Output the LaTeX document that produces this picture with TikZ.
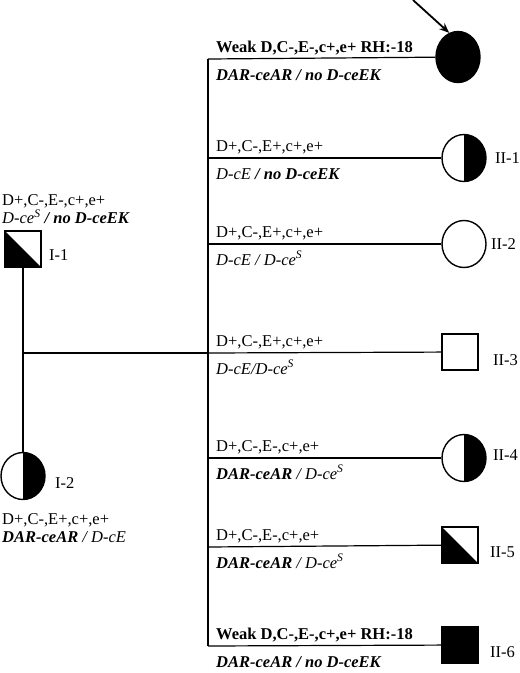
\documentclass[tikz,border=0pt]{standalone}
\usepackage{fontspec}
\setmainfont{Liberation Serif}
\usepackage{tikz}
\usetikzlibrary{positioning, arrows.meta, shapes.geometric}
\tikzset{
    fem/.style = {ellipse, draw, line width=1.4pt, minimum width=44pt,
                  minimum height=47pt, inner sep=0pt},
    male/.style = {rectangle, draw, line width=1.4pt, minimum size=36pt,
                   inner sep=0pt},
    affected/.style = {fill=black},
    halfcarrier/.style = {path picture={\fill[black] (path picture bounding box.north)
                          rectangle (path picture bounding box.south east);}},
    sqcarrier/.style = {path picture={\fill[black] (path picture bounding box.north west)
                        -- (path picture bounding box.south west)
                        -- (path picture bounding box.south east) -- cycle;}},
    link/.style = {line width=1.2pt},
    pheno/.style = {anchor=south west, inner sep=0pt, text depth=4pt},
    geno/.style = {anchor=north west, inner sep=0pt, text height=12pt},
    idlabel/.style = {anchor=west, inner sep=0pt},
    probarrow/.style = {-{Stealth[length=10pt, width=8pt]}, line width=1.8pt},
}
\newcommand{\ceS}{D-ce\textsuperscript{S}}

\begin{document}
\begin{tikzpicture}[x=1pt, y=-1pt, font=\fontsize{16.5}{17}\selectfont]
        \useasboundingbox (0,0) rectangle (520,673);
        % parents
        \node[male, sqcarrier] (I1) at (23,249) {};
        \node[idlabel] (lI1) at (49,255) {I-1};
        \node[anchor=south west, inner sep=0pt, align=left,
              font=\fontsize{16.5}{18.5}\selectfont] (tI1) at (2,224)
            {D+,C-,E-,c+,e+\\\textit{\ceS{} \textbf{/ no D-ceEK}}};
        \node[fem, halfcarrier] (I2) at (23,476) {};
        \node[idlabel] (lI2) at (55,483) {I-2};
        \node[anchor=north west, inner sep=0pt, align=left,
              font=\fontsize{16.5}{18}\selectfont] (tI2) at (2,513)
            {D+,C-,E+,c+,e+\\\textit{\textbf{DAR-ceAR} / D-cE}};
        \draw[link] (I1) -- (I2);
        \coordinate (mate) at (23,353);
        % sibship line
        \coordinate (cP) at (208,59);
        \coordinate (c1) at (208,158);
        \coordinate (c2) at (208,244);
        \coordinate (c3) at (208,353);
        \coordinate (c4) at (208,458);
        \coordinate (c5) at (208,547);
        \coordinate (c6) at (208,646);
        \draw[link] (mate) -- (c3);
        \draw[link] (cP) -- (c6);
        % proband
        \node[fem, affected, minimum height=51pt] (P) at (458,57) {};
        \coordinate (arrowtail) at (413,0);
        \draw[probarrow] (arrowtail) -- (P.110);
        \draw[link] (cP) -- (P);
        \node[pheno] (pP) at (216,57) {\textbf{Weak D,C-,E-,c+,e+ RH:-18}};
        \node[geno] (gP) at (216,68) {\textbf{\textit{DAR-ceAR / no D-ceEK}}};
        % II-1
        \node[fem, halfcarrier] (II1) at (464,158) {};
        \node[idlabel] (lII1) at (495,158) {II-1};
        \draw[link] (c1) -- (II1);
        \node[pheno] (p1) at (216,156) {D+,C-,E+,c+,e+};
        \node[geno] (g1) at (216,167) {\textit{D-cE \textbf{/ no D-ceEK}}};
        % II-2
        \node[fem] (II2) at (464,244) {};
        \node[idlabel] (lII2) at (491,244) {II-2};
        \draw[link] (c2) -- (II2);
        \node[pheno] (p2) at (216,242) {D+,C-,E+,c+,e+};
        \node[geno] (g2) at (216,253) {\textit{D-cE / \ceS}};
        % II-3
        \node[male] (II3) at (460,352) {};
        \node[idlabel] (lII3) at (493,360) {II-3};
        \draw[link] (c3) -- (II3);
        \node[pheno] (p3) at (216,351) {D+,C-,E+,c+,e+};
        \node[geno] (g3) at (216,362) {\textit{D-cE/\ceS}};
        % II-4
        \node[fem, halfcarrier] (II4) at (464,458) {};
        \node[idlabel] (lII4) at (493,455) {II-4};
        \draw[link] (c4) -- (II4);
        \node[pheno] (p4) at (216,456) {D+,C-,E-,c+,e+};
        \node[geno] (g4) at (216,467) {\textit{\textbf{DAR-ceAR} / \ceS}};
        % II-5
        \node[male, sqcarrier] (II5) at (460,545) {};
        \node[idlabel] (lII5) at (490,552) {II-5};
        \draw[link] (c5) -- (II5);
        \node[pheno] (p5) at (216,545) {D+,C-,E-,c+,e+};
        \node[geno] (g5) at (216,556) {\textit{\textbf{DAR-ceAR} / \ceS}};
        % II-6
        \node[male, affected] (II6) at (460,645) {};
        \node[idlabel] (lII6) at (490,652) {II-6};
        \draw[link] (c6) -- (II6);
        \node[pheno] (p6) at (216,644) {\textbf{Weak D,C-,E-,c+,e+ RH:-18}};
        \node[geno] (g6) at (216,655) {\textbf{\textit{DAR-ceAR / no D-ceEK}}};
      \end{tikzpicture}
\end{document}
